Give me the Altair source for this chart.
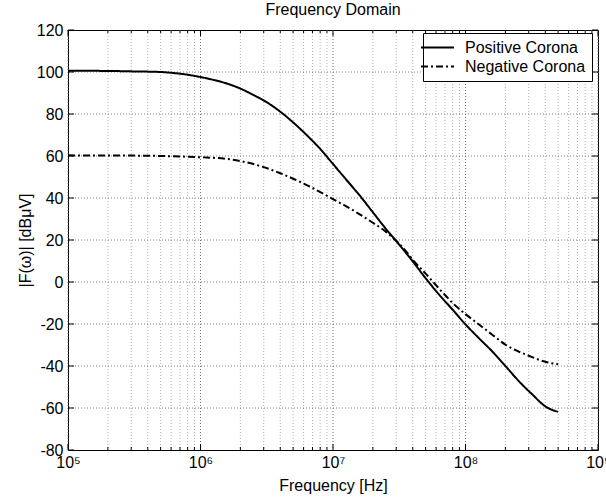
import altair as alt
import pandas as pd

# ---- data ----
pos_freq = [1e5, 2e5, 3e5, 5e5, 6.3e5, 8e5, 1e6, 1.26e6, 1.6e6, 2e6, 2.5e6, 3.2e6,
            4e6, 5e6, 6.3e6, 8e6, 1e7, 1.26e7, 1.6e7, 2e7, 2.5e7, 3.2e7, 4e7, 5e7,
            6.3e7, 8e7, 1e8, 1.26e8, 1.6e8, 2e8, 2.5e8, 3.2e8, 4e8, 4.5e8, 5e8]
pos_db = [100.6, 100.5, 100.3, 100.0, 99.5, 98.7, 97.6, 96.2, 94.4, 92.1, 89.1, 85.4,
          81.1, 76.0, 70.1, 63.4, 56.2, 48.7, 41.0, 33.2, 25.4, 17.4, 9.8, 1.8,
          -5.9, -13.2, -20.2, -26.7, -33.2, -40.0, -46.9, -53.6, -59.2, -60.9, -61.8]

neg_freq = [1e5, 3e5, 6e5, 1e6, 1.6e6, 2e6, 3e6, 4e6, 6e6, 1e7, 1.5e7, 2e7, 2.5e7,
            3e7, 3.5e7, 4e7, 5e7, 5.7e7, 7e7, 8e7, 1e8, 1.25e8, 1.6e8, 2e8, 2.5e8,
            3e8, 4e8, 5e8]
neg_db = [60.3, 60.2, 59.9, 59.4, 58.6, 57.6, 54.7, 51.8, 46.9, 39.5, 33.2, 28.2, 24.0,
          19.6, 15.2, 10.6, 4.0, 0.0, -6.2, -10.0, -15.3, -20.0, -25.2, -29.8, -33.0,
          -35.1, -38.0, -39.2]

series_names = ["Positive Corona", "Negative Corona"]

decades = [1e5, 1e6, 1e7, 1e8, 1e9]
minor_x = [k * d for d in [1e5, 1e6, 1e7, 1e8] for k in range(2, 10)]
y_ticks = [-80, -60, -40, -20, 0, 20, 40, 60, 80, 100, 120]
y_grid = [-60, -40, -20, 0, 20, 40, 60, 80, 100]

df = pd.DataFrame({
    "freq": pos_freq + neg_freq,
    "db": pos_db + neg_db,
    "series": [series_names[0]] * len(pos_freq) + [series_names[1]] * len(neg_freq),
})
df_major = pd.DataFrame({"f": decades})
df_minor = pd.DataFrame({"f": minor_x})
df_ygrid = pd.DataFrame({"v": y_grid})
df_yticks = pd.DataFrame({"v": y_ticks})

W, H = 530, 420
FONT = "Liberation Sans"

xscale = alt.Scale(type="log", domain=[1e5, 1e9], nice=False)
yscale = alt.Scale(domain=[-80, 120], nice=False, zero=False)

label_expr = ("datum.value == 100000 ? '10⁵' : datum.value == 1000000 ? '10⁶' : "
              "datum.value == 10000000 ? '10⁷' : datum.value == 100000000 ? '10⁸' : "
              "datum.value == 1000000000 ? '10⁹' : ''")

xaxis = alt.Axis(values=decades, labelExpr=label_expr, grid=False, ticks=False,
                 domain=False, labelFontSize=16, labelFont=FONT, labelColor="black",
                 labelPadding=4, labelFlush=False, labelOverlap=False,
                 title="Frequency [Hz]", titleFontSize=16, titleFont=FONT,
                 titleFontWeight="normal", titleColor="black", titlePadding=7)
yaxis = alt.Axis(values=y_ticks, grid=False, ticks=False, domain=False,
                 labelExpr="'' + datum.value",
                 labelFontSize=16, labelFont=FONT, labelColor="black", labelPadding=5,
                 title="|F(ω)| [dBμV]", titleFontSize=16, titleFont=FONT,
                 titleFontWeight="normal", titleColor="black", titlePadding=3)

# grid lines
grid_minor = alt.Chart(df_minor).mark_rule(color="#b0b0b0", strokeDash=[1, 2], strokeWidth=1).encode(
    x=alt.X("f:Q", scale=xscale, axis=xaxis))
grid_major = alt.Chart(df_major).mark_rule(color="#707070", strokeDash=[1, 2], strokeWidth=1).encode(
    x=alt.X("f:Q", scale=xscale))
grid_y = alt.Chart(df_ygrid).mark_rule(color="#808080", strokeDash=[1, 2], strokeWidth=1).encode(
    y=alt.Y("v:Q", scale=yscale, axis=yaxis))

# inward ticks
tick_major_b = alt.Chart(df_major).mark_rule(color="black").encode(
    x=alt.X("f:Q", scale=xscale), y=alt.value(H), y2=alt.value(H - 6))
tick_major_t = alt.Chart(df_major).mark_rule(color="black").encode(
    x=alt.X("f:Q", scale=xscale), y=alt.value(0), y2=alt.value(6))
tick_minor_b = alt.Chart(df_minor).mark_rule(color="black").encode(
    x=alt.X("f:Q", scale=xscale), y=alt.value(H), y2=alt.value(H - 3))
tick_minor_t = alt.Chart(df_minor).mark_rule(color="black").encode(
    x=alt.X("f:Q", scale=xscale), y=alt.value(0), y2=alt.value(3))
tick_y_l = alt.Chart(df_yticks).mark_rule(color="black").encode(
    y=alt.Y("v:Q", scale=yscale), x=alt.value(0), x2=alt.value(6))
tick_y_r = alt.Chart(df_yticks).mark_rule(color="black").encode(
    y=alt.Y("v:Q", scale=yscale), x=alt.value(W), x2=alt.value(W - 6))

lines = alt.Chart(df).mark_line(color="black", strokeWidth=2, interpolate="monotone").encode(
    x=alt.X("freq:Q", scale=xscale),
    y=alt.Y("db:Q", scale=yscale),
    strokeDash=alt.StrokeDash(
        "series:N",
        scale=alt.Scale(domain=series_names, range=[[1, 0], [7, 3, 2, 3]]),
        legend=alt.Legend(title=None, orient="none", legendX=355, legendY=3,
                          fillColor="white", strokeColor="black", padding=6,
                          symbolType="M-2.2,0H2.2", symbolSize=225, symbolStrokeWidth=2,
                          symbolStrokeColor="black", labelFontSize=16, labelFont=FONT,
                          labelColor="black", rowPadding=2, labelOffset=19),
    ),
)

chart = alt.layer(
    grid_minor, grid_major, grid_y,
    tick_major_b, tick_major_t, tick_minor_b, tick_minor_t, tick_y_l, tick_y_r,
    lines,
).properties(
    width=W, height=H,
    title=alt.TitleParams("Frequency Domain", fontSize=16, font=FONT, fontWeight="normal",
                          color="black", anchor="middle", offset=4),
    autosize=alt.AutoSizeParams(type="none"),
    padding={"left": 68, "top": 30, "right": 8, "bottom": 50},
    background="white",
).configure_view(stroke="black", strokeWidth=1)

chart.save("out.html", embed_options={"renderer": "svg", "actions": False})
